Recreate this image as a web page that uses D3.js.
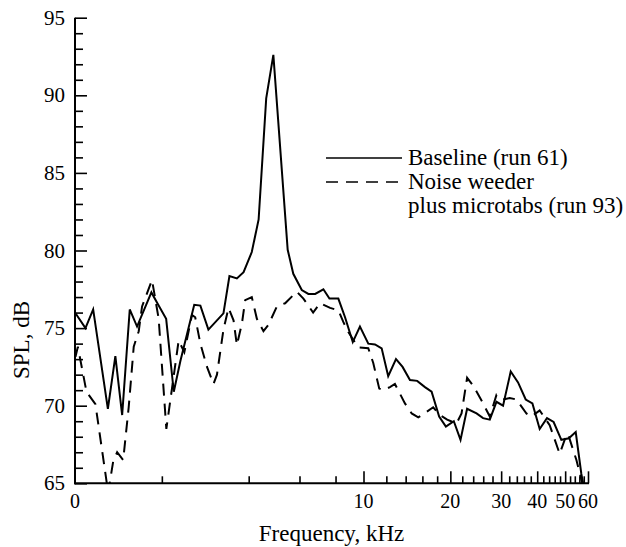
<!DOCTYPE html>
<html>
<head>
<meta charset="utf-8">
<script src="https://cdn.jsdelivr.net/npm/d3@7"></script>
<style>
  html, body { margin: 0; padding: 0; background: #fff; }
  svg { display: block; }
</style>
</head>
<body>
<svg id="chart" width="626" height="547"></svg>
<script>
// ---- data (frequency in kHz, SPL in dB) ----
const baselineFreq = [1.00, 1.087, 1.156, 1.30, 1.38, 1.457, 1.548, 1.641, 1.84, 1.93, 2.07, 2.20, 2.32, 2.59, 2.72, 2.90, 3.27, 3.43, 3.64, 3.84, 4.10, 4.33, 4.60, 4.87, 5.46, 5.71, 6.11, 6.44, 6.80, 7.26, 7.62, 8.18, 8.63, 9.18, 9.72, 10.39, 10.96, 11.56, 12.18, 12.96, 13.66, 14.49, 15.35, 16.33, 17.22, 18.29, 19.30, 20.56, 21.69, 22.86, 24.65, 25.97, 27.40, 28.90, 30.46, 32.38, 34.33, 36.50, 38.50, 40.8, 43.25, 45.6, 48.5, 51.5, 54.4, 56.9, 58.4];
const baselineSPL  = [76.0, 75.0, 76.2, 69.8, 73.2, 69.4, 76.2, 75.1, 77.3, 76.6, 75.6, 70.9, 72.9, 76.5, 76.45, 74.9, 75.95, 78.35, 78.2, 78.6, 79.9, 82.0, 89.8, 92.6, 80.05, 78.5, 77.45, 77.2, 77.2, 77.5, 76.9, 76.9, 75.7, 74.1, 75.1, 74.0, 73.95, 73.7, 71.9, 73.0, 72.5, 71.65, 71.6, 71.2, 70.9, 69.3, 68.65, 69.0, 67.8, 69.8, 69.5, 69.2, 69.1, 70.25, 70.0, 72.2, 71.5, 70.4, 70.15, 68.5, 69.2, 68.95, 67.8, 67.9, 68.3, 65.6, 64.5];

const weederFreq = [1.004, 1.023, 1.096, 1.177, 1.303, 1.356, 1.40, 1.469, 1.535, 1.598, 1.663, 1.708, 1.849, 1.95, 2.073, 2.287, 2.393, 2.544, 2.61, 2.72, 2.868, 3.02, 3.105, 3.27, 3.405, 3.544, 3.64, 3.79, 3.89, 4.10, 4.27, 4.50, 4.68, 5.01, 5.35, 5.87, 6.19, 6.69, 7.07, 7.66, 8.18, 8.51, 8.86, 9.59, 10.39, 10.81, 11.34, 11.71, 12.35, 12.85, 13.92, 14.69, 15.48, 16.55, 17.44, 18.40, 19.50, 21.01, 21.87, 22.86, 23.99, 25.97, 27.40, 28.90, 30.46, 32.13, 33.89, 36.71, 38.19, 40.8, 44.19, 47.86, 49.8, 51.1, 54.7, 57.5];
const weederSPL  = [73.15, 73.8, 70.9, 70.1, 64.4, 66.4, 67.0, 66.5, 69.9, 73.8, 74.8, 76.4, 78.1, 75.6, 68.5, 74.2, 73.45, 75.85, 75.7, 74.0, 72.5, 71.4, 72.0, 74.9, 76.3, 75.5, 73.9, 75.3, 76.8, 77.0, 75.6, 74.8, 75.2, 76.4, 76.6, 77.35, 76.9, 76.0, 76.6, 76.3, 76.15, 75.4, 74.75, 73.75, 73.7, 72.75, 71.1, 71.0, 71.2, 71.4, 70.15, 69.5, 69.25, 69.6, 69.9, 69.4, 69.1, 68.85, 69.5, 71.8, 71.3, 70.15, 69.3, 70.7, 70.4, 70.5, 70.4, 69.5, 69.3, 69.7, 68.75, 66.9, 67.8, 68.2, 66.5, 64.9];

const xMinorTicks = d3.range(2, 61, 2);
const xMajorTicks = [10, 20, 30, 40, 50, 60];
const xTickLabels = [{ v: 1, t: "0" }, { v: 10, t: "10" }, { v: 20, t: "20" }, { v: 30, t: "30" }, { v: 40, t: "40" }, { v: 50, t: "50" }, { v: 60, t: "60" }];
const yTicks = d3.range(65, 96, 1);
const yTickLabels = [65, 70, 75, 80, 85, 90, 95];

const legendItems = [
  { lines: ["Baseline (run 61)"], dash: null },
  { lines: ["Noise weeder", "plus microtabs (run 93)"], dash: "12,8" }
];

// ---- layout ----
const FONT = "'Liberation Serif', 'Times New Roman', Times, serif";
const fs = 23, tfs = 20;
const svg = d3.select("#chart").attr("font-family", FONT);
const x0 = 75, x1 = 588, yTop = 17.7, yBot = 483.3;
const x = d3.scaleLog().domain([1, 60]).range([x0, x1]);
const y = d3.scaleLinear().domain([65, 95]).range([yBot, yTop]);

svg.append("defs").append("clipPath").attr("id", "plotclip")
  .append("rect").attr("x", x0).attr("y", yTop - 5).attr("width", x1 - x0 + 2).attr("height", yBot - yTop + 5);

// ---- axes ----
function tickGroup(axis) {
  const g = svg.append("g").call(axis);
  g.select(".domain").remove();
  g.selectAll(".tick line").attr("stroke", "#000").attr("stroke-width", 1.6);
  g.selectAll(".tick text").remove();
  return g;
}
tickGroup(d3.axisBottom(x).tickValues(xMinorTicks.filter(v => !xMajorTicks.includes(v))).tickSize(-7))
  .attr("transform", `translate(0,${yBot})`);
tickGroup(d3.axisBottom(x).tickValues(xMajorTicks).tickSize(-12))
  .attr("transform", `translate(0,${yBot})`);
tickGroup(d3.axisLeft(y).tickValues(yTicks.filter(v => v % 5 !== 0)).tickSize(-8))
  .attr("transform", `translate(${x0},0)`);
tickGroup(d3.axisLeft(y).tickValues(yTickLabels).tickSize(-12))
  .attr("transform", `translate(${x0},0)`);

// axis lines
svg.append("line").attr("x1", x0).attr("x2", x0).attr("y1", yTop).attr("y2", yBot + 1)
  .attr("stroke", "#000").attr("stroke-width", 2);
svg.append("line").attr("x1", x0 - 1).attr("x2", x1 + 1).attr("y1", yBot).attr("y2", yBot)
  .attr("stroke", "#000").attr("stroke-width", 2);

// tick labels
svg.append("g").selectAll("text").data(xTickLabels).join("text")
  .attr("x", d => x(d.v)).attr("y", yBot + 25)
  .attr("text-anchor", "middle").attr("font-size", tfs).attr("font-family", FONT).attr("fill", "#000").text(d => d.t);
svg.append("g").selectAll("text").data(yTickLabels).join("text")
  .attr("x", x0 - 10).attr("y", d => y(d) + 7)
  .attr("text-anchor", "end").attr("font-size", tfs + 1).attr("font-family", FONT).attr("fill", "#000").text(d => d);

// axis titles
svg.append("text").attr("x", (x0 + x1) / 2).attr("y", 541)
  .attr("text-anchor", "middle").attr("font-size", fs).attr("font-family", FONT).attr("fill", "#000").text("Frequency, kHz");
svg.append("text").attr("transform", "translate(29,340) rotate(-90)")
  .attr("text-anchor", "middle").attr("font-size", fs).attr("font-family", FONT).attr("fill", "#000").text("SPL, dB");

// ---- lines ----
const line = d3.line().x(d => x(d[0])).y(d => y(d[1]));
const plot = svg.append("g").attr("clip-path", "url(#plotclip)");
plot.append("path").datum(d3.zip(baselineFreq, baselineSPL))
  .attr("d", line).attr("fill", "none").attr("stroke", "#000").attr("stroke-width", 2);
plot.append("path").datum(d3.zip(weederFreq, weederSPL))
  .attr("d", line).attr("fill", "none").attr("stroke", "#000").attr("stroke-width", 2).attr("stroke-dasharray", "12,8");

// ---- legend ----
const lg = svg.append("g");
const lgX = 326, lgLen = 76, lgTextX = 408, lgY = [158, 182], lineGap = 24;
legendItems.forEach((it, i) => {
  const l = lg.append("line").attr("x1", lgX).attr("x2", lgX + lgLen).attr("y1", lgY[i]).attr("y2", lgY[i])
    .attr("stroke", "#000").attr("stroke-width", 1.6);
  if (it.dash) l.attr("stroke-dasharray", it.dash);
  it.lines.forEach((t, j) => {
    lg.append("text").attr("x", lgTextX).attr("y", lgY[i] + 7 + j * lineGap)
      .attr("font-size", fs).attr("font-family", FONT).attr("fill", "#000").text(t);
  });
});
</script>
</body>
</html>
